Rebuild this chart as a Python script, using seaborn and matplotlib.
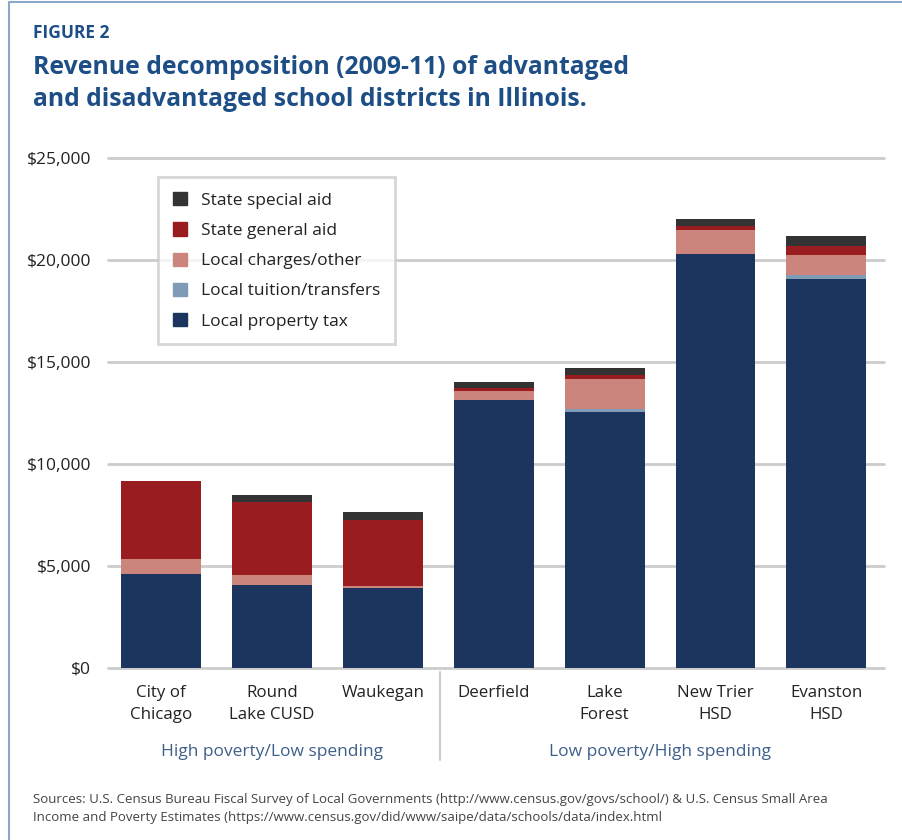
import matplotlib
matplotlib.use("Agg")
import matplotlib.pyplot as plt
import matplotlib.patches as mpatches
import seaborn as sns
import numpy as np

sns.set_theme(style="white")
plt.rcParams['font.family'] = ['Open Sans', 'DejaVu Sans']

# Revenue per pupil (USD) by source
districts = ["City of\nChicago", "Round\nLake CUSD", "Waukegan", "Deerfield",
             "Lake\nForest", "New Trier\nHSD", "Evanston\nHSD"]
local_property_tax = [4610, 4070, 3920, 13140, 12550, 20290, 19070]
local_tuition_transfers = [0, 0, 0, 0, 130, 0, 180]
local_charges_other = [730, 490, 100, 440, 1490, 1180, 1000]
state_general_aid = [3830, 3580, 3250, 150, 210, 200, 440]
state_special_aid = [0, 340, 380, 290, 340, 340, 490]

series_names = ["Local property tax", "Local tuition/transfers", "Local charges/other",
                "State general aid", "State special aid"]
series_values = [local_property_tax, local_tuition_transfers, local_charges_other,
                 state_general_aid, state_special_aid]
series_colors = ["#1c355e", "#7f9bb5", "#cc857d", "#991c20", "#333333"]

groups = ["High poverty/Low spending", "Low poverty/High spending"]
y_ticks = [0, 5000, 10000, 15000, 20000, 25000]
y_tick_labels = ["$0", "$5,000", "$10,000", "$15,000", "$20,000", "$25,000"]

fig = plt.figure(figsize=(9.02, 8.4), dpi=100)
ax = fig.add_axes([0.1197, 0.2048, 0.8603, 0.6071])

# Stacked bars: draw cumulative totals from the top layer down
cum = np.cumsum(np.array(series_values), axis=0)
for i in range(len(series_names) - 1, -1, -1):
    sns.barplot(x=districts, y=cum[i], color=series_colors[i], width=0.72,
                saturation=1, ax=ax, zorder=3, linewidth=0)

ax.set_xlim(-0.48, 6.52)
ax.set_ylim(0, 25000)
for t in y_ticks:
    ax.axhline(t, color="#cccccc", linewidth=2, zorder=1, clip_on=False)
ax.set_yticks(y_ticks)
ax.set_yticklabels(y_tick_labels, fontsize=12.5, color="#222222")
ax.tick_params(axis="y", length=0, pad=12)
ax.set_xticks(range(len(districts)))
ax.set_xticklabels(districts, fontsize=12.2, color="#222222", linespacing=1.5)
ax.tick_params(axis="x", length=0, pad=12)
for s in ax.spines.values():
    s.set_visible(False)
ax.set_xlabel("")
ax.set_ylabel("")

# Legend
handles = [mpatches.Patch(color=series_colors[i], label=series_names[i])
           for i in range(len(series_names) - 1, -1, -1)]
leg = ax.legend(handles=handles, loc="upper left", bbox_to_anchor=(0.065, 0.962),
                fontsize=12.5, frameon=True, fancybox=False, handlelength=0.8,
                handleheight=0.8, handletextpad=0.8, labelspacing=0.78,
                borderpad=0.85, borderaxespad=0)
leg.get_frame().set_edgecolor("#cccccc")
leg.get_frame().set_linewidth(2)
for txt in leg.get_texts():
    txt.set_color("#222222")

# Group labels and divider
fig.text(272 / 902, 1 - 752 / 840, groups[0], ha="center", va="center",
         fontsize=12.5, color="#3e5f8a")
fig.text(660 / 902, 1 - 752 / 840, groups[1], ha="center", va="center",
         fontsize=12.5, color="#3e5f8a")
fig.add_artist(plt.Line2D([440 / 902, 440 / 902], [1 - 672 / 840, 1 - 760 / 840],
                          color="#cccccc", linewidth=1.5))

# Title block
fig.text(33 / 902, 1 - 33 / 840, "FIGURE 2", ha="left", va="center",
         fontsize=12.5, fontweight="bold", color="#1d4f86")
fig.text(33 / 902, 1 - 68 / 840, "Revenue decomposition (2009-11) of advantaged",
         ha="left", va="center", fontsize=17.8, fontweight="bold", color="#1d4f86")
fig.text(33 / 902, 1 - 100 / 840, "and disadvantaged school districts in Illinois.",
         ha="left", va="center", fontsize=17.8, fontweight="bold", color="#1d4f86")

# Sources
fig.text(33 / 902, 1 - 800 / 840,
         "Sources: U.S. Census Bureau Fiscal Survey of Local Governments (http://www.census.gov/govs/school/) & U.S. Census Small Area",
         ha="left", va="center", fontsize=9.5, color="#444444")
fig.text(33 / 902, 1 - 818 / 840,
         "Income and Poverty Estimates (https://www.census.gov/did/www/saipe/data/schools/data/index.html",
         ha="left", va="center", fontsize=9.5, color="#444444")

# Outer frame
fig.add_artist(plt.Line2D([9 / 902, 9 / 902, 1.0], [0.0, 1 - 2 / 840, 1 - 2 / 840],
                          color="#8aa9c8", linewidth=1.5))

fig.savefig("out.png", dpi=100)
